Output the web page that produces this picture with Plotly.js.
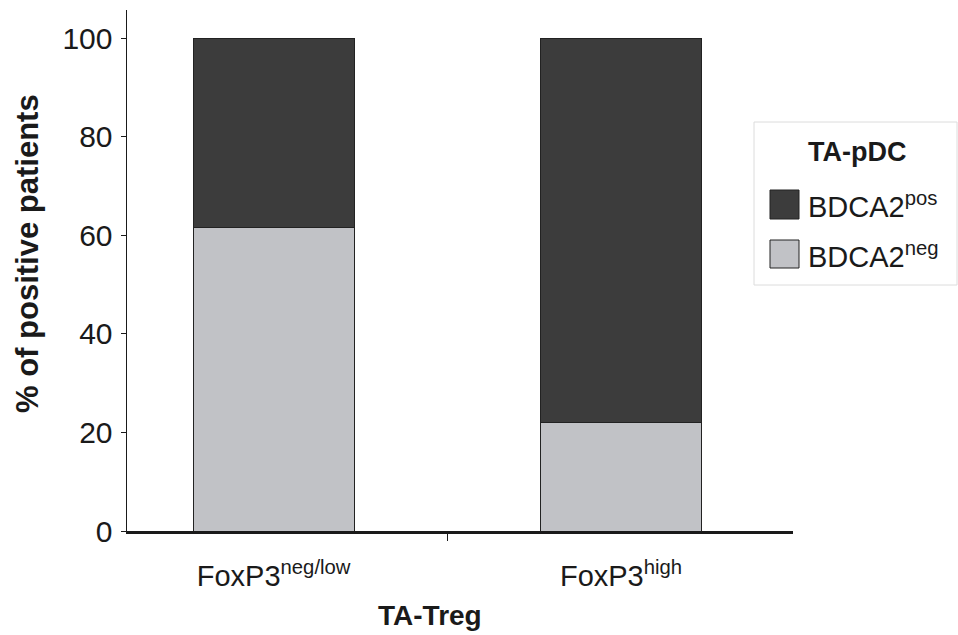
<!DOCTYPE html>
<html>
<head>
<meta charset="utf-8">
<script src="https://cdn.plot.ly/plotly-3.0.1.min.js"></script>
<style>html,body{margin:0;padding:0;background:#fff;}#chart{width:958px;height:635px;}</style>
</head>
<body>
<div id="chart"></div>
<script>
// ---- data ----
var categories = ['FoxP3<sup>neg/low</sup>', 'FoxP3<sup>high</sup>'];
var bdca2Neg = [61.5, 22.0];
var bdca2Pos = [38.5, 78.0];
var seriesNames = ['BDCA2<sup>pos</sup>', 'BDCA2<sup>neg</sup>'];
var seriesColors = ['#3c3c3c', '#c1c2c6'];
var yTicks = [0, 20, 40, 60, 80, 100];
var legendTitle = 'TA-pDC';
var xTitle = 'TA-Treg';
var yTitle = '% of positive patients';

// ---- geometry helpers (pixel -> paper) ----
var W = 958, H = 635;
var L = 127, R = 793, T = 10, B = 531;
function px(x) { return (x - L) / (R - L); }
function py(y) { return (B - y) / (B - T); }

var FONT = 'Liberation Sans, Arial, Helvetica, sans-serif';

var traces = [
  {
    type: 'bar', x: categories, y: bdca2Neg, name: seriesNames[1],
    marker: { color: seriesColors[1], line: { color: '#222', width: 1 } },
    width: 0.464, showlegend: false, hoverinfo: 'y'
  },
  {
    type: 'bar', x: categories, y: bdca2Pos, name: seriesNames[0],
    marker: { color: seriesColors[0], line: { color: '#222', width: 1 } },
    width: 0.464, showlegend: false, hoverinfo: 'y'
  }
];

var shapes = [
  // y axis line extension below zero
  { type: 'line', xref: 'paper', yref: 'y', ysizemode: 'pixel', yanchor: 0,
    x0: 0, x1: 0, y0: 0, y1: -7, line: { color: '#1a1a1a', width: 1.5 } },
  // legend box
  { type: 'rect', xref: 'paper', yref: 'paper', x0: px(754), x1: px(957), y0: py(122), y1: py(285),
    line: { color: '#dcdcdc', width: 1 }, fillcolor: 'rgba(0,0,0,0)' },
  // legend swatches
  { type: 'rect', xref: 'paper', yref: 'paper', x0: px(770), x1: px(799), y0: py(190), y1: py(219),
    line: { color: '#222', width: 1 }, fillcolor: seriesColors[0] },
  { type: 'rect', xref: 'paper', yref: 'paper', x0: px(770), x1: px(799), y0: py(240), y1: py(268),
    line: { color: '#222', width: 1 }, fillcolor: seriesColors[1] }
];

var annotations = [
  { xref: 'paper', yref: 'paper', x: px(857), y: py(152), text: '<b>' + legendTitle + '</b>',
    showarrow: false, xanchor: 'center', yanchor: 'middle', font: { family: FONT, size: 27, color: '#1a1a1a' } },
  { xref: 'paper', yref: 'paper', x: px(806), y: py(205), text: seriesNames[0],
    showarrow: false, xanchor: 'left', yanchor: 'middle', font: { family: FONT, size: 29, color: '#1a1a1a' } },
  { xref: 'paper', yref: 'paper', x: px(806), y: py(255), text: seriesNames[1],
    showarrow: false, xanchor: 'left', yanchor: 'middle', font: { family: FONT, size: 29, color: '#1a1a1a' } },
  { xref: 'paper', yref: 'paper', x: px(430), y: py(615), text: '<b>' + xTitle + '</b>',
    showarrow: false, xanchor: 'center', yanchor: 'middle', font: { family: FONT, size: 28, color: '#1a1a1a' } },
  { xref: 'paper', yref: 'paper', x: px(27), y: py(254), text: '<b>' + yTitle + '</b>', textangle: -90,
    showarrow: false, xanchor: 'center', yanchor: 'middle', font: { family: FONT, size: 31, color: '#1a1a1a' } }
];

var layout = {
  width: W, height: H,
  margin: { l: L, r: W - R, t: T, b: H - B, pad: 0 },
  paper_bgcolor: '#fff', plot_bgcolor: '#fff',
  barmode: 'stack',
  showlegend: false,
  font: { family: FONT, color: '#1a1a1a' },
  xaxis: {
    type: 'category',
    range: [-0.422, 1.495],
    tickson: 'boundaries',
    ticks: 'outside', ticklen: 7, tickwidth: 1, tickcolor: '#1a1a1a',
    showline: true, linecolor: '#1a1a1a', linewidth: 2.5,
    showgrid: false, zeroline: false,
    tickfont: { family: FONT, size: 29, color: '#1a1a1a' },
    ticklabelstandoff: 18
  },
  yaxis: {
    range: [0, 105.7],
    tickvals: yTicks,
    ticks: 'outside', ticklen: 5, tickwidth: 1, tickcolor: '#1a1a1a',
    showline: true, linecolor: '#1a1a1a', linewidth: 1.5,
    showgrid: false, zeroline: false,
    tickfont: { family: FONT, size: 30, color: '#1a1a1a' },
    ticklabelstandoff: 2
  },
  shapes: shapes,
  annotations: annotations
};

Plotly.newPlot('chart', traces, layout, { displayModeBar: false, staticPlot: true });
</script>
</body>
</html>
